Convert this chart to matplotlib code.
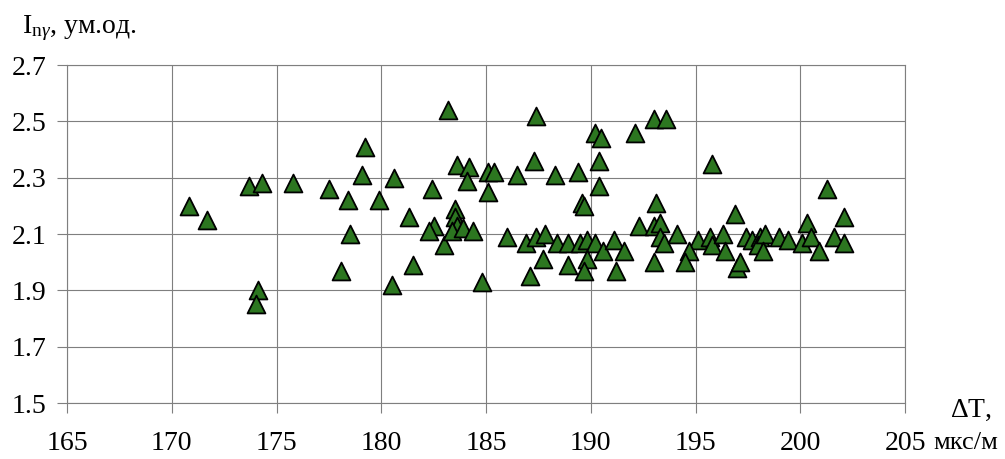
import matplotlib
matplotlib.use('Agg')
import matplotlib.pyplot as plt

plt.rcParams['font.family'] = ['Liberation Serif', 'DejaVu Serif']
plt.rcParams['mathtext.fontset'] = 'custom'
plt.rcParams['mathtext.rm'] = 'Liberation Serif'
plt.rcParams['mathtext.it'] = 'Liberation Serif:italic'

# interval transit time, mks/m
dt = [170.8, 171.7, 173.7, 174.3, 174.1, 174.0,
      175.8, 177.5, 178.4, 178.5, 178.1, 179.2, 179.1, 179.9, 180.6, 180.5,
      181.3, 181.5, 182.4, 182.5, 182.3, 183.0, 183.2, 183.6, 184.2, 184.1,
      185.1, 185.4, 186.5, 185.1, 183.5, 183.5, 183.6, 183.4, 183.9, 184.4,
      186.0, 184.8, 186.9, 187.4, 187.8, 188.4, 188.9, 189.5, 189.8, 190.2,
      190.6, 191.1, 191.6, 187.7, 188.9, 189.8, 189.7, 187.1, 191.2,
      187.4, 190.2, 190.5, 192.1, 187.3, 190.4, 188.3, 189.4, 190.4, 189.6,
      189.7, 192.3,
      193.0, 193.6, 195.8, 193.1, 196.9, 193.0, 193.3, 193.3, 193.5, 194.1,
      195.1, 195.7, 195.8, 196.3, 196.4, 194.7, 194.5, 193.0, 197.0, 197.1,
      197.4, 197.7, 198.1, 198.0, 198.3,
      198.2, 199.0, 199.4, 200.3, 200.1, 200.5, 200.9, 201.3, 201.6, 202.1,
      202.1]

# neutron-gamma index, rel. units
ing = [2.20, 2.15, 2.27, 2.28, 1.90, 1.85,
       2.28, 2.26, 2.22, 2.10, 1.97, 2.41, 2.31, 2.22, 2.30, 1.92,
       2.16, 1.99, 2.26, 2.13, 2.11, 2.06, 2.54, 2.345, 2.34, 2.29,
       2.32, 2.32, 2.31, 2.25, 2.19, 2.16, 2.13, 2.11, 2.12, 2.11,
       2.09, 1.93, 2.07, 2.09, 2.10, 2.07, 2.07, 2.07, 2.08, 2.07,
       2.04, 2.08, 2.04, 2.01, 1.99, 2.01, 1.97, 1.95, 1.97,
       2.52, 2.46, 2.44, 2.46, 2.36, 2.36, 2.31, 2.32, 2.27, 2.21,
       2.20, 2.13,
       2.51, 2.51, 2.35, 2.21, 2.17, 2.13, 2.14, 2.09, 2.07, 2.10,
       2.08, 2.09, 2.06, 2.10, 2.04, 2.04, 2.00, 2.00, 1.98, 2.00,
       2.09, 2.08, 2.09, 2.06, 2.10,
       2.04, 2.09, 2.08, 2.14, 2.07, 2.09, 2.04, 2.26, 2.09, 2.16,
       2.07]

x_ticks = [165, 170, 175, 180, 185, 190, 195, 200, 205]
y_ticks = [1.5, 1.7, 1.9, 2.1, 2.3, 2.5, 2.7]

fig = plt.figure(figsize=(10.05, 4.59), dpi=100)
ax = fig.add_axes([0.0667, 0.122, 0.8338, 0.736])

ax.scatter(dt, ing, marker='^', s=165, c='#2c7620', edgecolors='black',
           linewidths=1.3, zorder=3, clip_on=False)

ax.set_xlim(165, 205)
ax.set_ylim(1.5, 2.7)
ax.set_xticks(x_ticks)
ax.set_yticks(y_ticks)
ax.set_yticklabels([f'{v:.1f}' for v in y_ticks])
ax.grid(True, color='#7f7f7f', linewidth=0.8, zorder=0)
for sp in ax.spines.values():
    sp.set_color('#7f7f7f')
    sp.set_linewidth(0.8)
ax.tick_params(axis='both', colors='#7f7f7f', labelcolor='black',
               labelsize=20, length=7, width=0.8)
ax.tick_params(axis='x', pad=13)
ax.tick_params(axis='y', pad=8)

fig.text(0.022, 0.938, r'I$_{\mathrm{n}\gamma}$, ум.од.', fontsize=20,
         ha='left', va='center')
fig.text(0.966, 0.105, r'$\Delta$T,', fontsize=20, ha='center', va='center')
fig.text(0.929, 0.035, 'мкс/м', fontsize=19, ha='left', va='center')

fig.savefig('out.png', dpi=100)
